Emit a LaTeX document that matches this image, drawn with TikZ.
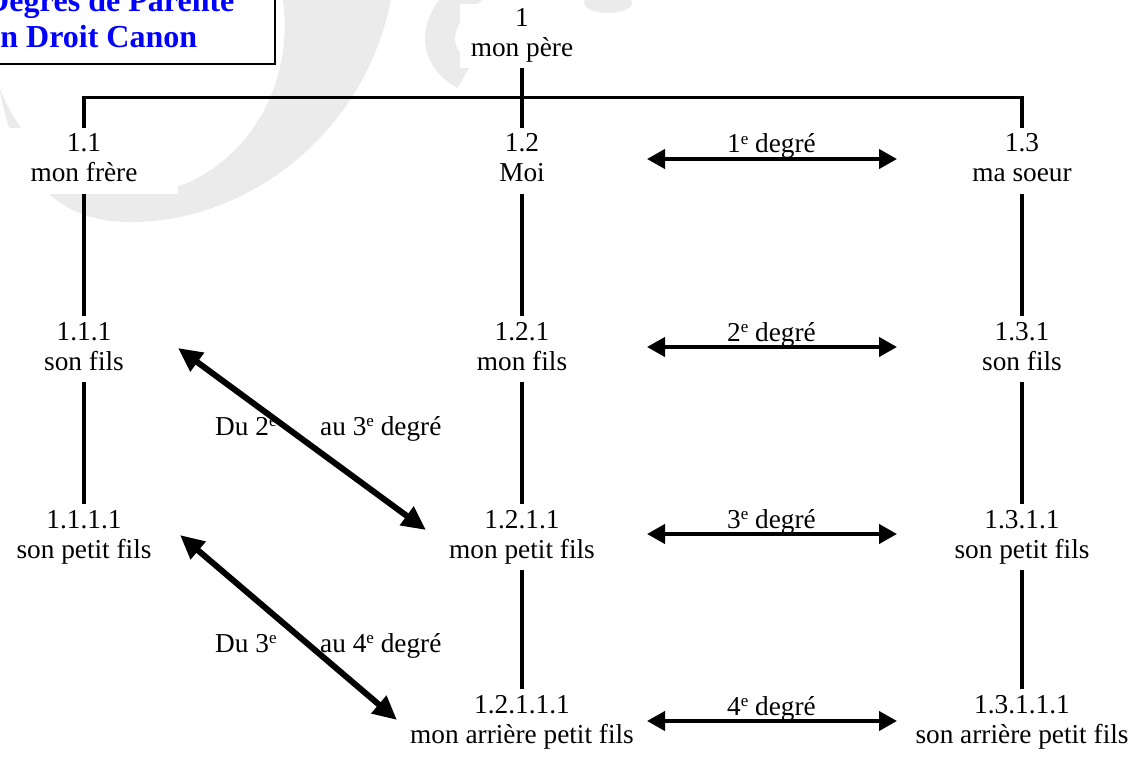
\documentclass[tikz,border=0pt]{standalone}
\usepackage{fontspec}
\setmainfont{Liberation Serif}
\usetikzlibrary{arrows.meta}
\definecolor{tblue}{RGB}{0,0,255}
\newcommand{\se}{\raisebox{8.5pt}{\fontsize{17}{17}\selectfont e}}
\newcommand{\pp}[2]{\rule{0pt}{19pt}#1\\#2\rule[-7pt]{0pt}{7pt}}
\begin{document}
\begin{tikzpicture}[x=1pt,y=-1pt,
  every node/.style={font=\fontsize{27.3}{30}\selectfont},
  person/.style={align=center, fill=white, inner xsep=4pt, inner ysep=0pt, minimum height=66pt},
  tree/.style={line width=3.2pt},
  deg/.style={line width=4pt, {Triangle[length=18pt,width=19pt]}-{Triangle[length=18pt,width=19pt]}},
  diag/.style={line width=6pt, {Triangle[length=24pt,width=22pt]}-{Triangle[length=24pt,width=22pt]}},
  lab/.style={anchor=base, inner sep=0pt},
  lableft/.style={anchor=base west, inner sep=0pt},
  titletext/.style={anchor=base west, inner sep=0pt, text=tblue, font=\fontsize{32}{36}\selectfont\bfseries},
  wm/.style={black!8}
]
\useasboundingbox (0,0) rectangle (1143,765);
\clip (0,0) rectangle (1143,765);

% watermark
\fill[wm] (392,-5) .. controls (365,140) and (240,225) .. (125,222) .. controls (45,220) and (5,160) .. (-5,55) -- (-5,75) .. controls (15,140) and (70,192) .. (130,194) .. controls (225,196) and (300,100) .. (282,-5) -- cycle;
\draw[wm, line width=30pt] (478,-15) .. controls (432,15) and (428,55) .. (465,75);
\fill[wm] (608,3) ellipse [x radius=24pt, y radius=10pt];

% title box
\draw[line width=2pt, fill=white] (-40,-40) rectangle (274.5,63.8);
\node[titletext] (t1) at (-14,12) {Degrés de Parenté};
\node[titletext] (t2) at (-14,48) {en Droit Canon};

% people
\node[person, minimum width=125pt, minimum height=64pt] (n1) at (522,36) {\pp{1}{mon père}};
\node[person, minimum width=188pt] (n11) at (84,161) {\pp{1.1}{mon frère}};
\node[person] (n12) at (522,161) {\pp{1.2}{Moi}};
\node[person] (n13) at (1022,161) {\pp{1.3}{ma soeur}};
\node[person] (n111) at (84,349) {\pp{1.1.1}{son fils}};
\node[person] (n121) at (522,349) {\pp{1.2.1}{mon fils}};
\node[person] (n131) at (1022,349) {\pp{1.3.1}{son fils}};
\node[person] (n1111) at (84,537) {\pp{1.1.1.1}{son petit fils}};
\node[person] (n1211) at (522,537) {\pp{1.2.1.1}{mon petit fils}};
\node[person] (n1311) at (1022,537) {\pp{1.3.1.1}{son petit fils}};
\node[person] (n12111) at (522,722) {\pp{1.2.1.1.1}{mon arrière petit fils}};
\node[person] (n13111) at (1022,722) {\pp{1.3.1.1.1}{son arrière petit fils}};

% tree lines
\coordinate (bl) at (84,97.5);
\coordinate (br) at (1022,97.5);
\draw[tree] (n1.south) -- (n12.north);
\draw[tree] (n11.north) -- (bl) -- (br) -- (n13.north);
\draw[tree] (n11.south) -- (n111.north);
\draw[tree] (n111.south) -- (n1111.north);
\draw[tree] (n12.south) -- (n121.north);
\draw[tree] (n121.south) -- (n1211.north);
\draw[tree] (n1211.south) -- (n12111.north);
\draw[tree] (n13.south) -- (n131.north);
\draw[tree] (n131.south) -- (n1311.north);
\draw[tree] (n1311.south) -- (n13111.north);

% degree arrows
\coordinate (d1l) at (647,159); \coordinate (d1r) at (897,159);
\coordinate (d2l) at (647,347); \coordinate (d2r) at (897,347);
\coordinate (d3l) at (647,534); \coordinate (d3r) at (897,534);
\coordinate (d4l) at (647,721); \coordinate (d4r) at (897,721);
\node[lab] (l1) at (771.5,153) {1\se{} degré};
\node[lab] (l2) at (771.5,341) {2\se{} degré};
\node[lab] (l3) at (771.5,528) {3\se{} degré};
\node[lab] (l4) at (771.5,715) {4\se{} degré};
\draw[deg] (d1l) -- (d1r);
\draw[deg] (d2l) -- (d2r);
\draw[deg] (d3l) -- (d3r);
\draw[deg] (d4l) -- (d4r);

% diagonal arrows
\node[lableft] (du2) at (215,435) {Du 2\se};
\node[lableft] (au3) at (320,435) {au 3\se{} degré};
\node[lableft] (du3) at (215,652) {Du 3\se};
\node[lableft] (au4) at (320,652) {au 4\se{} degré};
\coordinate (g1a) at (178,348); \coordinate (g1b) at (426,530);
\coordinate (g2a) at (180,535); \coordinate (g2b) at (397,720);
\draw[diag] (g1a) -- (g1b);
\draw[diag] (g2a) -- (g2b);
\end{tikzpicture}
\end{document}
